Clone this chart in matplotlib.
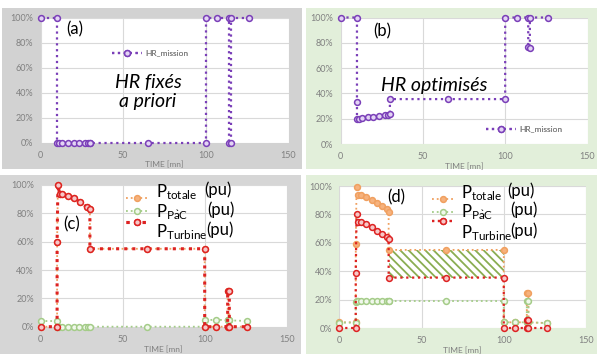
import matplotlib
matplotlib.use("Agg")
import matplotlib.pyplot as plt
from matplotlib.patches import Rectangle

# ---------------- data ----------------
t_a = [0, 10, 10, 11, 13, 16.5, 20, 23.5, 27, 29, 30, 30, 65, 100, 100, 107, 114, 114, 115, 115, 126]
hr_a = [1, 1, 0, 0, 0, 0, 0, 0, 0, 0, 0, 0, 0, 0, 1, 1, 1, 0, 0, 1, 1]

t_b = [0, 10, 10, 10, 11, 13, 16.5, 20, 23.5, 27, 29, 30, 30, 65, 100, 100, 107, 114, 114, 115, 115, 126]
hr_b = [1, 1, 0.33, 0.195, 0.20, 0.205, 0.21, 0.213, 0.22, 0.23, 0.232, 0.235, 0.355, 0.355, 0.355,
        1, 1, 1, 0.77, 0.76, 1, 1]

t_c = [0, 10, 10, 10.5, 11.5, 13, 16.5, 20, 24, 28, 30, 30, 65, 100, 100, 107, 114, 114, 115, 115, 126]
tot_c = [0, 0, 0.6, 1.0, 0.94, 0.94, 0.925, 0.905, 0.88, 0.845, 0.83, 0.55, 0.55, 0.55, 0, 0, 0, 0.25, 0.255, 0, 0]
tur_c = [0, 0, 0.6, 1.0, 0.94, 0.94, 0.925, 0.905, 0.88, 0.845, 0.83, 0.55, 0.55, 0.55, 0, 0, 0, 0.25, 0.255, 0, 0]
t_pac_c = [0, 10, 10, 11, 13, 16.5, 20, 23.5, 27, 29, 30, 65, 100, 100, 107, 114, 114, 115, 115, 126]
pac_c = [0.04, 0.04, 0, 0, 0, 0, 0, 0, 0, 0, 0, 0, 0, 0.045, 0.05, 0.045, 0.045, 0.045, 0.045, 0.04]

t_d = [0, 10, 10, 10.5, 11.5, 13, 16.5, 20, 23, 26, 29, 30, 30, 65, 100, 100, 107, 114, 114, 115, 115, 126]
tot_d = [0.04, 0.04, 0.59, 0.99, 0.94, 0.94, 0.92, 0.90, 0.88, 0.86, 0.84, 0.82, 0.55, 0.55, 0.55,
         0.04, 0.04, 0.04, 0.25, 0.25, 0.04, 0.035]
pac_d = [0.038, 0.038, 0.185, 0.19, 0.19, 0.19, 0.19, 0.19, 0.19, 0.19, 0.19, 0.19, 0.19, 0.19, 0.19,
         0.04, 0.04, 0.04, 0.19, 0.19, 0.04, 0.035]
tur_d = [0, 0, 0.39, 0.80, 0.745, 0.745, 0.73, 0.71, 0.685, 0.66, 0.64, 0.63, 0.355, 0.355, 0.355,
         0, 0, 0, 0.056, 0.056, 0, 0]

x_ticks = [0, 50, 100, 150]
y_ticks = [0, 0.2, 0.4, 0.6, 0.8, 1.0]
y_labels = ["0%", "20%", "40%", "60%", "80%", "100%"]

# ---------------- style ----------------
W, H = 597, 354
plt.rcParams["font.family"] = ["Lato", "DejaVu Sans"]
plt.rcParams["mathtext.fontset"] = "custom"
plt.rcParams["mathtext.rm"] = "Lato"
plt.rcParams["mathtext.it"] = "Lato:italic"
plt.rcParams["hatch.linewidth"] = 1.3

GRAY_BG = "#d2d2d2"
GRAY_BG2 = "#d6d6d6"
GREEN_BG = "#e2efda"
TICK_C = "#808080"
PURPLE = "#7a3fb8"
PURPLE_F = "#e3d4f4"
ORANGE = "#f0a060"
ORANGE_F = "#f6b27e"
GREEN = "#a4cc88"
GREEN_F = "#f1f8ec"
RED = "#dd2222"
RED_F = "#f6c8c8"
HATCH_C = "#8aad52"

fig = plt.figure(figsize=(W / 100, H / 100), dpi=100)


def frect(l, t, r, b):
    return [l / W, 1 - b / H, (r - l) / W, (b - t) / H]


def bg(l, t, r, b, c):
    fig.patches.append(Rectangle((l / W, 1 - b / H), (r - l) / W, (b - t) / H,
                                 transform=fig.transFigure, facecolor=c, edgecolor="none", zorder=-5))


bg(2, 8, 302, 169, GRAY_BG)
bg(306, 8, 597, 169, GREEN_BG)
bg(0, 175, 301, 354, GRAY_BG2)
bg(306, 175, 597, 354, GREEN_BG)


def style(ax):
    ax.set_facecolor("white")
    ax.set_xlim(0, 150)
    ax.set_ylim(0, 1)
    ax.set_xticks(x_ticks)
    ax.set_yticks(y_ticks)
    ax.set_yticklabels(y_labels)
    ax.grid(True, color="#d9d9d9", lw=0.8)
    ax.set_axisbelow(True)
    for s in ax.spines.values():
        s.set_visible(False)
    ax.tick_params(axis="both", length=0, labelsize=6.5, colors=TICK_C)
    ax.tick_params(axis="x", pad=6)
    ax.tick_params(axis="y", pad=5)
    ax.set_xlabel("TIME [mn]", fontsize=6, color=TICK_C, labelpad=1)


def series(ax, x, y, c, fc, lw, ms=4.2, z=3):
    ln, = ax.plot(x, y, ls=":", color=c, lw=lw, marker="o", ms=ms, mfc=fc, mec=c,
                  mew=1.1, clip_on=False, zorder=z)
    return ln


def key(ax, handle, label, cx, cy, hl, fs=6):
    leg = ax.legend([handle], [label], loc="center", bbox_to_anchor=(cx / W, 1 - cy / H),
                    bbox_transform=fig.transFigure, frameon=False, fontsize=fs,
                    handlelength=hl, handletextpad=0.4, borderpad=0, borderaxespad=0,
                    labelcolor=TICK_C, numpoints=1)
    ax.add_artist(leg)


def ptext(x, y, sub):
    fig.text(x / W, 1 - y / H, r"$\mathrm{P_{%s}}$" % sub, fontsize=12, color="black",
             ha="left", va="center")


# (a)
axa = fig.add_axes(frect(40.5, 17.5, 288.5, 142.5))
style(axa)
la = series(axa, t_a, hr_a, PURPLE, PURPLE_F, 1.6)
key(axa, la, "HR_mission", 150, 53, 3.6)
fig.text(75 / W, 1 - 29 / H, "(a)", fontsize=12, ha="center", va="center")
fig.text(148 / W, 1 - 92 / H, "HR fixés\na priori", fontsize=14, style="italic",
         ha="center", va="center", linespacing=1.15)

# (b)
axb = fig.add_axes(frect(340.5, 17.5, 587.5, 144))
style(axb)
lb = series(axb, t_b, hr_b, PURPLE, PURPLE_F, 1.6)
key(axb, lb, "HR_mission", 524, 129, 3.6)
fig.text(382 / W, 1 - 31 / H, "(b)", fontsize=12, ha="center", va="center")
fig.text(434 / W, 1 - 86 / H, "HR optimisés", fontsize=14, style="italic",
         ha="center", va="center")

# (c)
axc = fig.add_axes(frect(40.7, 185, 286.7, 326.7))
style(axc)
lc1 = series(axc, t_c, tot_c, ORANGE, ORANGE_F, 1.3, z=3)
lc2 = series(axc, t_pac_c, pac_c, GREEN, GREEN_F, 1.3, z=4)
lc3 = series(axc, t_c, tur_c, RED, RED_F, 2.2, z=5)
key(axc, lc1, "", 139, 198, 2.8)
key(axc, lc2, "", 139, 211, 2.8)
key(axc, lc3, "", 139, 222, 2.8)
fig.text(72 / W, 1 - 224 / H, "(c)", fontsize=12, ha="center", va="center")
for yy, sub in [(192, "totale"), (212, r"P\`aC"), (232, "Turbine")]:
    ptext(156, yy, sub)
for yy, xx in [(190, 204), (210, 207), (230, 206)]:
    fig.text(xx / W, 1 - yy / H, "(pu)", fontsize=12, ha="left", va="center")

# (d)
axd = fig.add_axes(frect(339.3, 186, 586, 328))
style(axd)
axd.fill_between(t_d[12:15], tur_d[12:15], tot_d[12:15], facecolor="white",
                 edgecolor=HATCH_C, hatch="\\\\\\\\", lw=0, zorder=2)
ld1 = series(axd, t_d, tot_d, ORANGE, ORANGE_F, 1.3, z=3)
ld2 = series(axd, t_d, pac_d, GREEN, GREEN_F, 1.3, z=4)
ld3 = series(axd, t_d, tur_d, RED, RED_F, 1.6, z=5)
key(axd, ld1, "", 445, 199, 2.8)
key(axd, ld2, "", 445, 212, 2.8)
key(axd, ld3, "", 445, 221, 2.8)
fig.text(396 / W, 1 - 197 / H, "(d)", fontsize=12, ha="center", va="center")
for yy, sub in [(193, "totale"), (212, r"P\`aC"), (233, "Turbine")]:
    ptext(461, yy, sub)
for yy, xx in [(191, 507), (210, 510), (231, 510)]:
    fig.text(xx / W, 1 - yy / H, "(pu)", fontsize=12, ha="left", va="center")

fig.savefig("out.png", dpi=100)
